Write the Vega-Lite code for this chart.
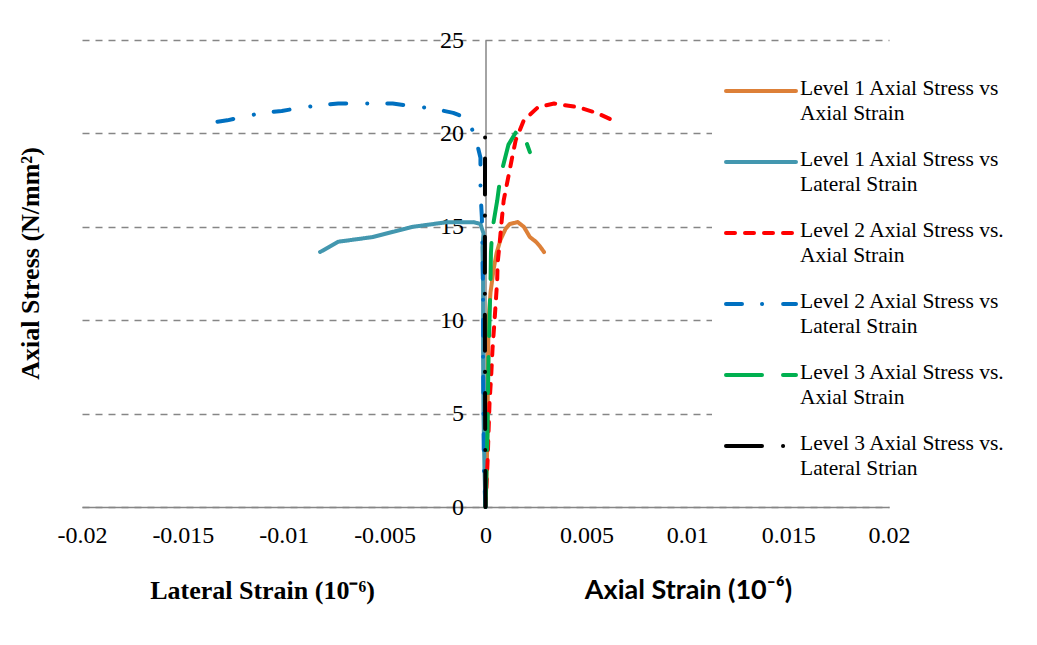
{
  "$schema": "https://vega.github.io/schema/vega-lite/v6.json",
  "width": 807,
  "height": 467,
  "autosize": "none",
  "padding": {"left": 82, "top": 40, "right": 148, "bottom": 138},
  "background": "white",
  "config": {
    "view": {"stroke": null},
    "font": "Liberation Serif"
  },
  "data": {"values": [
    {"s":"Level 1 Axial Stress vs|Axial Strain","o":0,"x":0,"y":0},
    {"s":"Level 1 Axial Stress vs|Axial Strain","o":1,"x":0.00005,"y":1.5},
    {"s":"Level 1 Axial Stress vs|Axial Strain","o":2,"x":0.0001,"y":4},
    {"s":"Level 1 Axial Stress vs|Axial Strain","o":3,"x":0.00012,"y":7},
    {"s":"Level 1 Axial Stress vs|Axial Strain","o":4,"x":0.00015,"y":10},
    {"s":"Level 1 Axial Stress vs|Axial Strain","o":5,"x":0.00025,"y":11.5},
    {"s":"Level 1 Axial Stress vs|Axial Strain","o":6,"x":0.0004,"y":12.7},
    {"s":"Level 1 Axial Stress vs|Axial Strain","o":7,"x":0.00055,"y":13.6},
    {"s":"Level 1 Axial Stress vs|Axial Strain","o":8,"x":0.00074,"y":14.3},
    {"s":"Level 1 Axial Stress vs|Axial Strain","o":9,"x":0.001,"y":14.9},
    {"s":"Level 1 Axial Stress vs|Axial Strain","o":10,"x":0.0012,"y":15.15},
    {"s":"Level 1 Axial Stress vs|Axial Strain","o":11,"x":0.0016,"y":15.25},
    {"s":"Level 1 Axial Stress vs|Axial Strain","o":12,"x":0.0019,"y":15.0},
    {"s":"Level 1 Axial Stress vs|Axial Strain","o":13,"x":0.0022,"y":14.45},
    {"s":"Level 1 Axial Stress vs|Axial Strain","o":14,"x":0.0025,"y":14.2},
    {"s":"Level 1 Axial Stress vs|Axial Strain","o":15,"x":0.0027,"y":13.95},
    {"s":"Level 1 Axial Stress vs|Axial Strain","o":16,"x":0.0029,"y":13.65},

    {"s":"Level 1 Axial Stress vs|Lateral Strain","o":0,"x":0,"y":0},
    {"s":"Level 1 Axial Stress vs|Lateral Strain","o":1,"x":-0.00005,"y":2},
    {"s":"Level 1 Axial Stress vs|Lateral Strain","o":2,"x":-0.0001,"y":5},
    {"s":"Level 1 Axial Stress vs|Lateral Strain","o":3,"x":-0.00012,"y":8},
    {"s":"Level 1 Axial Stress vs|Lateral Strain","o":4,"x":-0.00012,"y":10},
    {"s":"Level 1 Axial Stress vs|Lateral Strain","o":5,"x":-0.00012,"y":12},
    {"s":"Level 1 Axial Stress vs|Lateral Strain","o":6,"x":-0.00015,"y":13.9},
    {"s":"Level 1 Axial Stress vs|Lateral Strain","o":7,"x":-0.0001,"y":14.65},
    {"s":"Level 1 Axial Stress vs|Lateral Strain","o":8,"x":-0.00025,"y":15.15},
    {"s":"Level 1 Axial Stress vs|Lateral Strain","o":9,"x":-0.0006,"y":15.25},
    {"s":"Level 1 Axial Stress vs|Lateral Strain","o":10,"x":-0.0019,"y":15.25},
    {"s":"Level 1 Axial Stress vs|Lateral Strain","o":11,"x":-0.0036,"y":15.0},
    {"s":"Level 1 Axial Stress vs|Lateral Strain","o":12,"x":-0.0056,"y":14.45},
    {"s":"Level 1 Axial Stress vs|Lateral Strain","o":13,"x":-0.0073,"y":14.2},
    {"s":"Level 1 Axial Stress vs|Lateral Strain","o":14,"x":-0.0082,"y":13.65},

    {"s":"Level 2 Axial Stress vs.|Axial Strain","o":0,"x":0,"y":0},
    {"s":"Level 2 Axial Stress vs.|Axial Strain","o":1,"x":0.0001,"y":2.35},
    {"s":"Level 2 Axial Stress vs.|Axial Strain","o":2,"x":0.0002,"y":5.6},
    {"s":"Level 2 Axial Stress vs.|Axial Strain","o":3,"x":0.00028,"y":7},
    {"s":"Level 2 Axial Stress vs.|Axial Strain","o":4,"x":0.00035,"y":8.5},
    {"s":"Level 2 Axial Stress vs.|Axial Strain","o":5,"x":0.00045,"y":10},
    {"s":"Level 2 Axial Stress vs.|Axial Strain","o":6,"x":0.00058,"y":12.15},
    {"s":"Level 2 Axial Stress vs.|Axial Strain","o":7,"x":0.0006,"y":13.05},
    {"s":"Level 2 Axial Stress vs.|Axial Strain","o":8,"x":0.0007,"y":14.1},
    {"s":"Level 2 Axial Stress vs.|Axial Strain","o":9,"x":0.0008,"y":15.3},
    {"s":"Level 2 Axial Stress vs.|Axial Strain","o":10,"x":0.0009,"y":16.4},
    {"s":"Level 2 Axial Stress vs.|Axial Strain","o":11,"x":0.0011,"y":17.5},
    {"s":"Level 2 Axial Stress vs.|Axial Strain","o":12,"x":0.0013,"y":18.6},
    {"s":"Level 2 Axial Stress vs.|Axial Strain","o":13,"x":0.0015,"y":19.65},
    {"s":"Level 2 Axial Stress vs.|Axial Strain","o":14,"x":0.0019,"y":20.7},
    {"s":"Level 2 Axial Stress vs.|Axial Strain","o":15,"x":0.0026,"y":21.4},
    {"s":"Level 2 Axial Stress vs.|Axial Strain","o":16,"x":0.0034,"y":21.6},
    {"s":"Level 2 Axial Stress vs.|Axial Strain","o":17,"x":0.0046,"y":21.4},
    {"s":"Level 2 Axial Stress vs.|Axial Strain","o":18,"x":0.0055,"y":21.1},
    {"s":"Level 2 Axial Stress vs.|Axial Strain","o":19,"x":0.0064,"y":20.66},

    {"s":"Level 2 Axial Stress vs|Lateral Strain","o":0,"x":0,"y":0},
    {"s":"Level 2 Axial Stress vs|Lateral Strain","o":1,"x":-0.00008,"y":2},
    {"s":"Level 2 Axial Stress vs|Lateral Strain","o":2,"x":-0.0001,"y":5},
    {"s":"Level 2 Axial Stress vs|Lateral Strain","o":3,"x":-0.00012,"y":8},
    {"s":"Level 2 Axial Stress vs|Lateral Strain","o":4,"x":-0.00012,"y":11},
    {"s":"Level 2 Axial Stress vs|Lateral Strain","o":5,"x":-0.00015,"y":14},
    {"s":"Level 2 Axial Stress vs|Lateral Strain","o":6,"x":-0.00018,"y":15.5},
    {"s":"Level 2 Axial Stress vs|Lateral Strain","o":7,"x":-0.00025,"y":16.9},
    {"s":"Level 2 Axial Stress vs|Lateral Strain","o":8,"x":-0.00025,"y":18.7},
    {"s":"Level 2 Axial Stress vs|Lateral Strain","o":9,"x":-0.0005,"y":19.8},
    {"s":"Level 2 Axial Stress vs|Lateral Strain","o":10,"x":-0.0009,"y":20.8},
    {"s":"Level 2 Axial Stress vs|Lateral Strain","o":11,"x":-0.0016,"y":21.1},
    {"s":"Level 2 Axial Stress vs|Lateral Strain","o":12,"x":-0.0027,"y":21.35},
    {"s":"Level 2 Axial Stress vs|Lateral Strain","o":13,"x":-0.0036,"y":21.45},
    {"s":"Level 2 Axial Stress vs|Lateral Strain","o":14,"x":-0.0046,"y":21.6},
    {"s":"Level 2 Axial Stress vs|Lateral Strain","o":15,"x":-0.0064,"y":21.6},
    {"s":"Level 2 Axial Stress vs|Lateral Strain","o":16,"x":-0.0073,"y":21.6},
    {"s":"Level 2 Axial Stress vs|Lateral Strain","o":17,"x":-0.0083,"y":21.5},
    {"s":"Level 2 Axial Stress vs|Lateral Strain","o":18,"x":-0.0093,"y":21.35},
    {"s":"Level 2 Axial Stress vs|Lateral Strain","o":19,"x":-0.0101,"y":21.2},
    {"s":"Level 2 Axial Stress vs|Lateral Strain","o":20,"x":-0.011,"y":21.1},
    {"s":"Level 2 Axial Stress vs|Lateral Strain","o":21,"x":-0.012,"y":20.9},
    {"s":"Level 2 Axial Stress vs|Lateral Strain","o":22,"x":-0.0128,"y":20.7},
    {"s":"Level 2 Axial Stress vs|Lateral Strain","o":23,"x":-0.0138,"y":20.55},

    {"s":"Level 3 Axial Stress vs.|Axial Strain","o":0,"x":0,"y":0},
    {"s":"Level 3 Axial Stress vs.|Axial Strain","o":1,"x":0.00005,"y":2},
    {"s":"Level 3 Axial Stress vs.|Axial Strain","o":2,"x":0.0001,"y":4},
    {"s":"Level 3 Axial Stress vs.|Axial Strain","o":3,"x":0.00012,"y":6},
    {"s":"Level 3 Axial Stress vs.|Axial Strain","o":4,"x":0.00015,"y":8},
    {"s":"Level 3 Axial Stress vs.|Axial Strain","o":5,"x":0.0002,"y":10},
    {"s":"Level 3 Axial Stress vs.|Axial Strain","o":6,"x":0.00025,"y":12.2},
    {"s":"Level 3 Axial Stress vs.|Axial Strain","o":7,"x":0.00027,"y":13.6},
    {"s":"Level 3 Axial Stress vs.|Axial Strain","o":8,"x":0.00033,"y":14.8},
    {"s":"Level 3 Axial Stress vs.|Axial Strain","o":9,"x":0.00058,"y":16.4},
    {"s":"Level 3 Axial Stress vs.|Axial Strain","o":10,"x":0.00074,"y":17.7},
    {"s":"Level 3 Axial Stress vs.|Axial Strain","o":11,"x":0.00114,"y":19.4},
    {"s":"Level 3 Axial Stress vs.|Axial Strain","o":12,"x":0.0015,"y":20.05},
    {"s":"Level 3 Axial Stress vs.|Axial Strain","o":13,"x":0.0018,"y":20.15},
    {"s":"Level 3 Axial Stress vs.|Axial Strain","o":14,"x":0.002,"y":19.6},
    {"s":"Level 3 Axial Stress vs.|Axial Strain","o":15,"x":0.0022,"y":19.0},

    {"s":"Level 3 Axial Stress vs.|Lateral Strian","o":0,"x":0,"y":0},
    {"s":"Level 3 Axial Stress vs.|Lateral Strian","o":1,"x":-0.00002,"y":5},
    {"s":"Level 3 Axial Stress vs.|Lateral Strian","o":2,"x":-0.00003,"y":10},
    {"s":"Level 3 Axial Stress vs.|Lateral Strian","o":3,"x":-0.00003,"y":15},
    {"s":"Level 3 Axial Stress vs.|Lateral Strian","o":4,"x":-0.00002,"y":20}
  ]},
  "resolve": {"axis": {"x": "independent", "y": "independent"}},
  "layer": [
    {
      "mark": {"type": "line", "strokeWidth": 4, "strokeCap": "round", "strokeJoin": "round"},
      "encoding": {
        "x": {
          "field": "x", "type": "quantitative",
          "scale": {"domain": [-0.02, 0.02], "nice": false, "zero": false},
          "axis": {
            "orient": "bottom",
            "values": [-0.02, -0.015, -0.01, -0.005, 0, 0.005, 0.01, 0.015, 0.02],
            "labelExpr": "'' + datum.value",
            "labelFlush": false, "labelOverlap": false,
            "labelFont": "Liberation Serif", "labelFontSize": 24, "labelColor": "black",
            "labelPadding": 16, "ticks": false, "grid": false,
            "domainColor": "#868686", "domainWidth": 1.5,
            "title": "Lateral Strain (10⁻⁶)",
            "titleFont": "Liberation Serif", "titleFontSize": 26, "titleFontWeight": "bold",
            "titleColor": "black", "titleX": 180, "titleY": 91, "titleBaseline": "alphabetic",
            "titleAnchor": "middle", "titleAlign": "center"
          }
        },
        "y": {
          "field": "y", "type": "quantitative",
          "scale": {"domain": [0, 25], "nice": false},
          "axis": {
            "values": [0, 5, 10, 15, 20, 25],
            "offset": -403.5,
            "labelFont": "Liberation Serif", "labelFontSize": 24, "labelColor": "black",
            "labelPadding": 22, "ticks": false,
            "grid": true, "gridColor": "#868686", "gridDash": [7, 6], "gridWidth": 1.5,
            "domainColor": "#868686", "domainWidth": 1.5,
            "title": "Axial Stress (N/mm²)",
            "titleFont": "Liberation Serif", "titleFontSize": 26, "titleFontWeight": "bold",
            "titleColor": "black", "titleX": -455, "titleY": 223, "titleBaseline": "middle",
            "titleAngle": -90, "titleAlign": "center"
          }
        },
        "order": {"field": "o", "type": "quantitative"},
        "color": {
          "field": "s", "type": "nominal",
          "scale": {
            "domain": ["Level 1 Axial Stress vs|Axial Strain", "Level 1 Axial Stress vs|Lateral Strain", "Level 2 Axial Stress vs.|Axial Strain", "Level 2 Axial Stress vs|Lateral Strain", "Level 3 Axial Stress vs.|Axial Strain", "Level 3 Axial Stress vs.|Lateral Strian"],
            "range": ["#DD8038", "#4397AF", "#FF0000", "#0070C0", "#00B050", "#000000"]
          },
          "legend": {
            "orient": "none", "legendX": 630, "legendY": 2,
            "title": null, "fillColor": "white", "padding": 12,
            "symbolType": "stroke", "symbolSize": 4900, "symbolStrokeWidth": 4,
            "labelFont": "Liberation Serif", "labelFontSize": 21.5, "labelColor": "black",
            "labelLimit": 400, "labelOffset": 2, "rowPadding": 0,
            "labelExpr": "split(datum.label, '|')",
            "encode": {
              "labels": {"update": {"lineHeight": {"value": 25}, "dy": {"value": -2}}},
              "symbols": {"update": {"strokeCap": {"value": "round"}}}
            }
          }
        },
        "strokeDash": {
          "field": "s", "type": "nominal",
          "scale": {
            "domain": ["Level 1 Axial Stress vs|Axial Strain", "Level 1 Axial Stress vs|Lateral Strain", "Level 2 Axial Stress vs.|Axial Strain", "Level 2 Axial Stress vs|Lateral Strain", "Level 3 Axial Stress vs.|Axial Strain", "Level 3 Axial Stress vs.|Lateral Strian"],
            "range": [[1, 0], [1, 0], [9, 10], [16, 20, 0.1, 21], [36, 21], [36, 21, 0.1, 21]]
          },
          "legend": {
            "orient": "none", "legendX": 630, "legendY": 2,
            "title": null, "fillColor": "white", "padding": 12,
            "symbolType": "stroke", "symbolSize": 4900, "symbolStrokeWidth": 4,
            "labelFont": "Liberation Serif", "labelFontSize": 21.5, "labelColor": "black",
            "labelLimit": 400, "labelOffset": 2, "rowPadding": 0,
            "labelExpr": "split(datum.label, '|')",
            "encode": {
              "labels": {"update": {"lineHeight": {"value": 25}, "dy": {"value": -2}}},
              "symbols": {"update": {"strokeCap": {"value": "round"}}}
            }
          }
        }
      }
    },
    {
      "mark": {"type": "point", "opacity": 0},
      "encoding": {
        "x": {
          "field": "x", "type": "quantitative",
          "scale": {"domain": [-0.02, 0.02], "nice": false, "zero": false},
          "axis": {
            "orient": "bottom",
            "labels": false, "ticks": false, "domain": false, "grid": false,
            "title": "Axial Strain (10⁻⁶)",
            "titleFont": "Lato", "titleFontSize": 27, "titleFontWeight": "bold",
            "titleColor": "black", "titleX": 606, "titleY": 91, "titleBaseline": "alphabetic",
            "titleAlign": "center"
          }
        },
        "y": {"field": "y", "type": "quantitative", "axis": null}
      }
    }
  ]
}
